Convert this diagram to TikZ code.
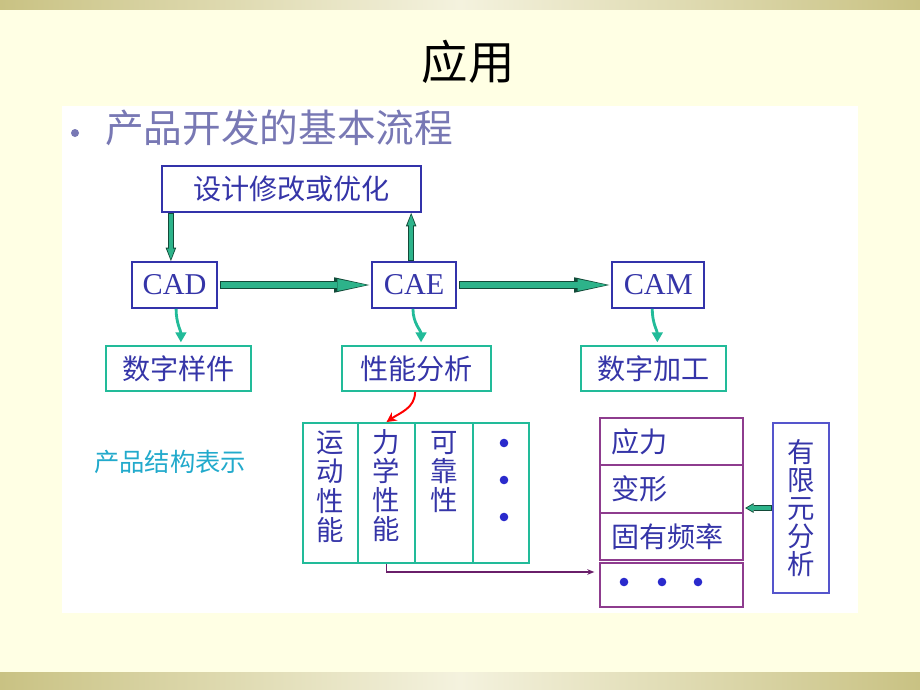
\documentclass[tikz,border=0pt]{standalone}
\usepackage{fontspec}
\setmainfont{Liberation Serif}
\newfontfamily\cjk{Noto Sans CJK SC}
\usepackage{xcolor}
\usepackage{tikz}
\usetikzlibrary{arrows,arrows.meta,positioning}
\definecolor{bgyellow}{HTML}{FFFFE4}
\definecolor{bandolive}{HTML}{C9C283}
\definecolor{bandlight}{HTML}{F4F2DE}
\definecolor{boxblue}{HTML}{3333AA}
\definecolor{textblue}{HTML}{3535A8}
\definecolor{boxgreen}{HTML}{22BB99}
\definecolor{flowgreen}{HTML}{2DB38A}
\definecolor{flowedge}{HTML}{124A38}
\definecolor{boxpurple}{HTML}{8E3C8E}
\definecolor{linepurple}{HTML}{6A1F6A}
\definecolor{subgray}{HTML}{7878B4}
\definecolor{labelcyan}{HTML}{22AACC}
\definecolor{feablue}{HTML}{5555CC}
\definecolor{dotblue}{HTML}{2A2ACC}

\begin{document}
\begin{tikzpicture}[x=0.025cm,y=0.025cm,>=stealth',on grid,
  bluebox/.style={draw=boxblue,line width=1.3pt,fill=white,inner sep=0pt,minimum height=1.15cm},
  greenbox/.style={draw=boxgreen,line width=1.3pt,fill=white,inner sep=0pt,minimum height=1.125cm},
  column/.style={draw=boxgreen,line width=1.3pt,inner sep=0pt,minimum height=3.5cm},
  purplebox/.style={draw=boxpurple,line width=1pt,inner sep=0pt,minimum width=3.575cm},
  cjkbox/.style={font=\cjk\fontsize{20}{24}\selectfont,text=textblue},
  latinbox/.style={font=\fontsize{21.5}{24}\selectfont,text=textblue},
  vtext/.style={font=\cjk\fontsize{19.5}{20.8}\selectfont,text=textblue,align=center,inner sep=0pt},
  hflow/.style={draw=flowedge,line width=6.2pt,shorten <=1.4pt,shorten >=1.4pt,
    -{Triangle[length=25pt,width=11pt,line width=0pt]},
    postaction={draw=flowgreen,line width=4.6pt,shorten <=2.2pt,shorten >=3pt,
      -{Triangle[length=21pt,width=8.4pt,line width=0pt]}}},
  vflow/.style={draw=flowedge,line width=4.3pt,
    -{Triangle[length=9.5pt,width=7.5pt,line width=0pt]},
    postaction={draw=flowgreen,line width=3pt,shorten <=0.7pt,shorten >=1.3pt,
      -{Triangle[length=7.5pt,width=5.5pt,line width=0pt]}}},
  fflow/.style={draw=flowedge,line width=4.4pt,shorten >=1pt,
    -{Triangle[length=6pt,width=7pt,line width=0pt]},
    postaction={draw=flowgreen,line width=3pt,shorten <=0.7pt,shorten >=2.2pt,
      -{Triangle[length=4.3pt,width=5pt,line width=0pt]}}},
  turnarrow/.style={draw=boxgreen,line width=2pt,shorten >=2pt,-{Triangle[length=7pt,width=7.5pt]}}]
  \useasboundingbox (0,0) rectangle (920,-690);
  \fill[bgyellow] (0,0) rectangle (920,-690);
  \shade[left color=bandolive,right color=bandolive,middle color=bandlight] (0,0) rectangle (920,-10);
  \shade[left color=bandolive,right color=bandolive,middle color=bandlight] (0,-672) rectangle (920,-690);
  \fill[white] (62,-106) rectangle (858,-613);

  \node[font=\cjk\fontsize{33}{36}\selectfont] (title) at (468,-62) {应用};
  \fill[subgray] (75,-133) circle (4);
  \node[anchor=west,inner sep=0pt,font=\cjk\fontsize{27.5}{30}\selectfont,text=subgray] (topic) at (105,-128) {产品开发的基本流程};

  \node[bluebox,cjkbox,minimum width=6.475cm] (design) at (291.5,-189) {设计修改或优化};
  \node[bluebox,latinbox,minimum width=2.125cm] (cad) at (174.5,-285) {CAD};
  \node[bluebox,latinbox,minimum width=2.1cm] (cae) [right=5.99cm of cad] {CAE};
  \node[bluebox,latinbox,minimum width=2.3cm] (cam) [right=6.1cm of cae] {CAM};
  \node[greenbox,cjkbox,minimum width=3.625cm] (sample) [below=2.0875cm of cad,xshift=0.1cm] {数字样件};
  \node[greenbox,cjkbox,minimum width=3.725cm] (perf) [below=2.0875cm of cae,xshift=0.0625cm] {性能分析};
  \node[greenbox,cjkbox,minimum width=3.625cm] (mach) [below=2.0875cm of cam,xshift=-0.1125cm] {数字加工};

  \node[font=\cjk\fontsize{18}{20}\selectfont,text=labelcyan] (structure) at (170,-462) {产品结构表示};

  \node[column,minimum width=1.375cm] (c1) at (330.5,-493) {};
  \node[column,minimum width=1.425cm] (c2) at (386.5,-493) {};
  \node[column,minimum width=1.45cm] (c3) at (444,-493) {};
  \node[column,minimum width=1.4cm] (c4) at (501,-493) {};
  \node[vtext,anchor=north] (t1) at ([yshift=-0.22cm]c1.north) {运\\动\\性\\能};
  \node[vtext,anchor=north] (t2) at ([yshift=-0.17cm]c2.north) {力\\学\\性\\能};
  \node[vtext,anchor=north] (t3) at ([yshift=-0.22cm]c3.north) {可\\靠\\性};
  \foreach \y in {443,480,517}
    \fill[dotblue] (504,-\y) circle (4.3);

  \node[purplebox,minimum height=1.175cm] (stress) at (671.5,-441.5) {};
  \node[purplebox,minimum height=1.2cm] (deform) at (671.5,-489) {};
  \node[purplebox,minimum height=1.175cm] (freq) at (671.5,-536.5) {};
  \node[purplebox,minimum height=1.1cm] (dots) at (671.5,-585) {};
  \node[cjkbox,anchor=west,inner sep=0pt] (t4) at ([xshift=0.3cm]stress.west) {应力};
  \node[cjkbox,anchor=west,inner sep=0pt] (t5) at ([xshift=0.3cm]deform.west) {变形};
  \node[cjkbox,anchor=west,inner sep=0pt] (t6) at ([xshift=0.3cm]freq.west) {固有频率};
  \foreach \x in {624,662,698}
    \fill[dotblue] (\x,-582) circle (4.3);

  \node[draw=feablue,line width=1.1pt,inner sep=0pt,minimum width=1.4cm,minimum height=4.25cm,
    font=\cjk\fontsize{19.5}{19.9}\selectfont,text=textblue,align=center] (fea) at (801,-508) {有\\限\\元\\分\\析};

  \coordinate (cadin) at ([xshift=-0.09cm]cad.north);
  \coordinate (caeout) at ([xshift=-0.075cm]cae.north);
  \draw[vflow] (cadin |- design.south) -- (cadin);
  \draw[vflow] (caeout) -- (caeout |- design.south);
  \draw[hflow] (cad) -- (cae);
  \draw[hflow] (cae) -- (cam);

  \draw[turnarrow] ([xshift=0.04cm]cad.south) to[out=-90,in=90] ([xshift=0.06cm]sample.north);
  \draw[turnarrow] ([xshift=-0.03cm]cae.south) to[out=-90,in=90] ([xshift=0.11cm]perf.north);
  \draw[turnarrow] ([xshift=-0.15cm]cam.south) to[out=-90,in=90] ([xshift=0.09cm]mach.north);
  \draw[red,line width=1.4pt,-{Stealth[length=7pt,width=7pt]}] ([xshift=-0.04cm]perf.south) to[out=-90,in=35] (c2.north);

  \coordinate (dotsin) at ([xshift=-0.125cm,yshift=0.325cm]dots.west);
  \draw[linepurple,line width=1pt,-{Stealth[length=5pt,width=4pt]}] (c2.south) |- (dotsin);
  \draw[fflow] (fea.west) -- (fea.west -| deform.east);
\end{tikzpicture}
\end{document}
